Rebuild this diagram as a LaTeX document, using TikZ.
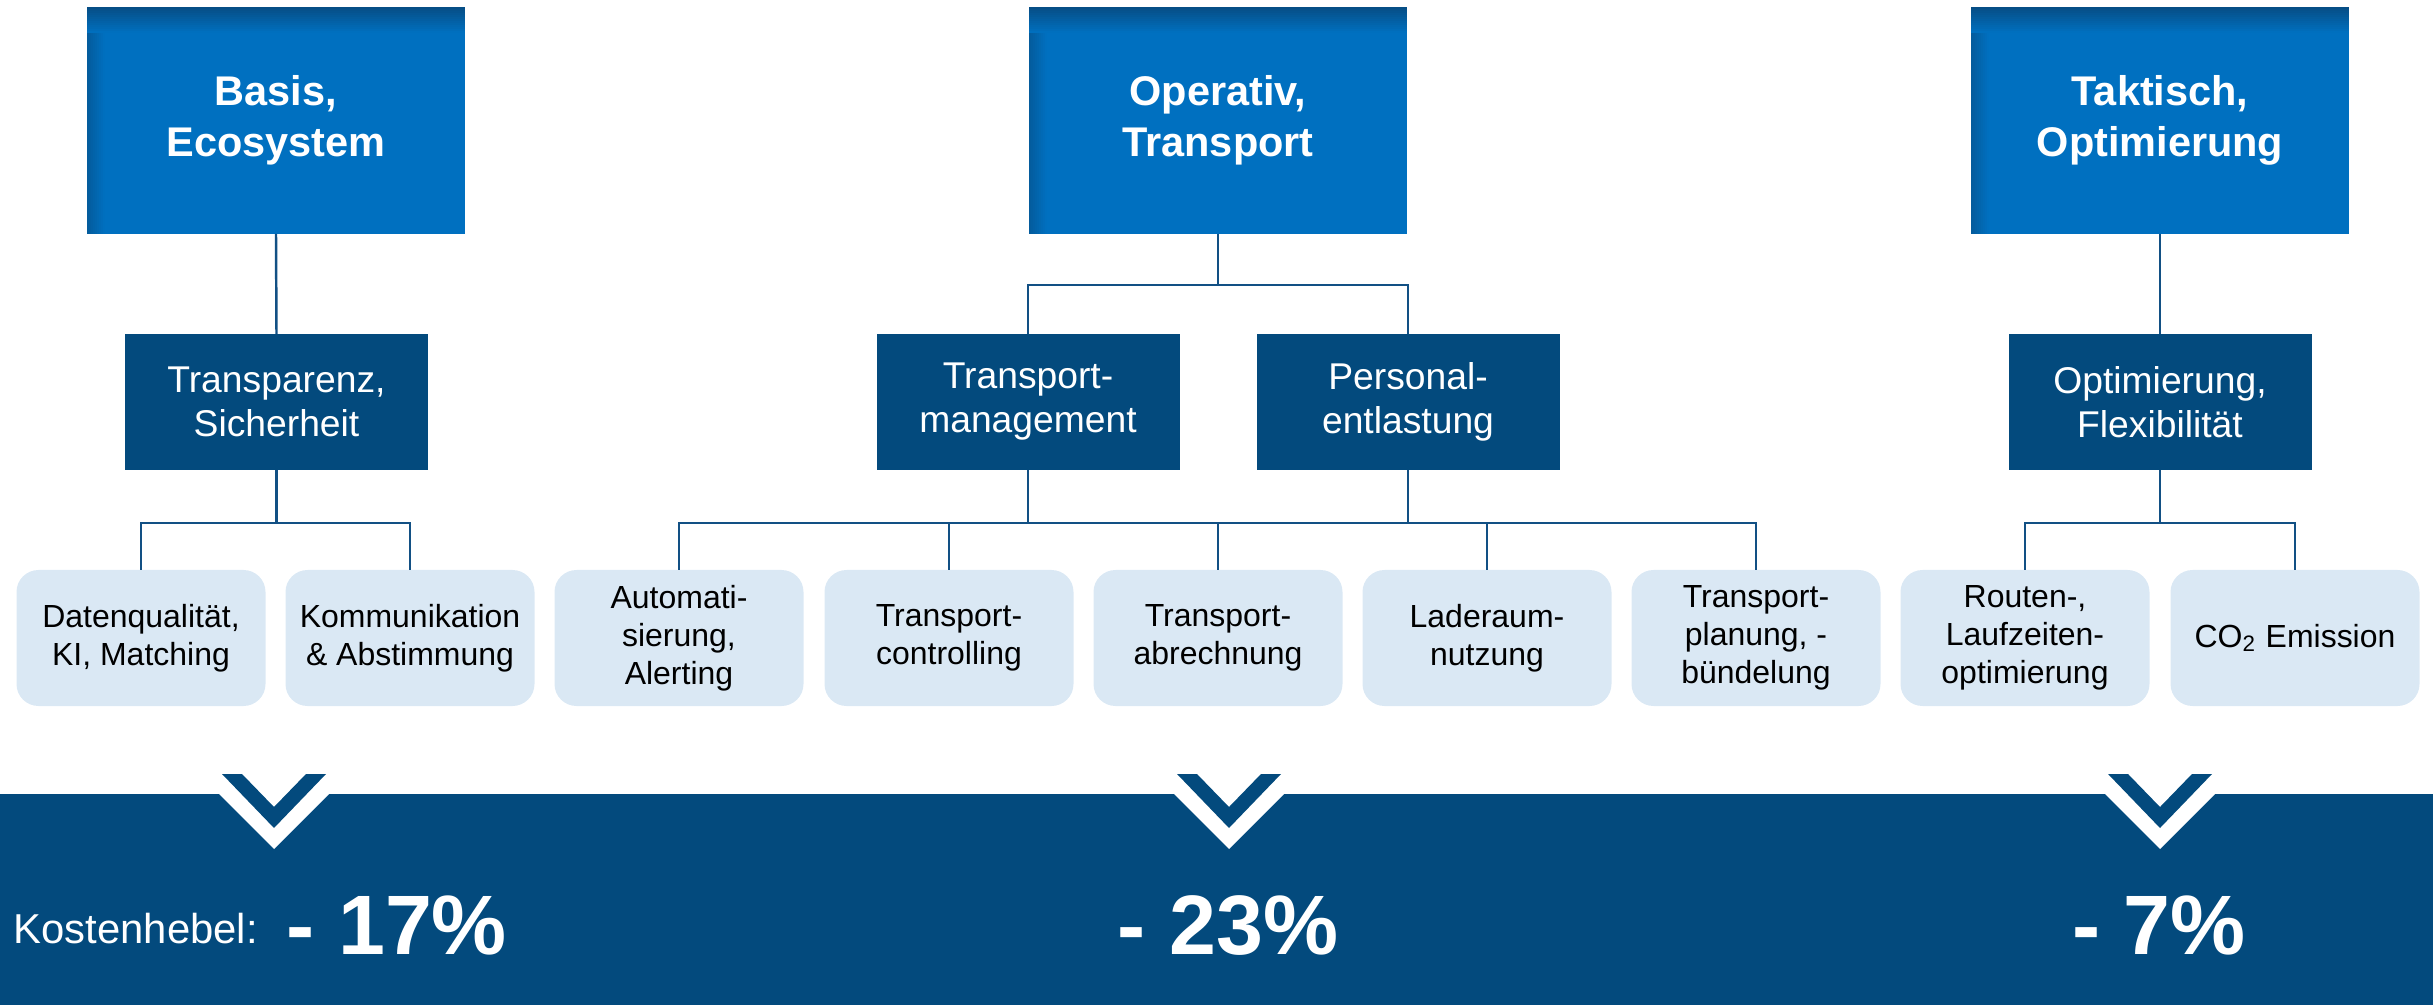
\documentclass[tikz,border=0pt]{standalone}
\usepackage{fontspec}
\setmainfont{Liberation Sans}

\definecolor{topblue}{RGB}{0,112,192}
\definecolor{topshade}{RGB}{6,78,134}
\definecolor{darkblue}{RGB}{3,74,125}
\definecolor{leafblue}{RGB}{218,232,244}
\definecolor{linecol}{RGB}{18,80,132}

\tikzset{
	topbox/.style={fill=topblue, text=white, minimum width=3.78cm, minimum height=2.27cm,
		inner sep=0pt, outer sep=0pt, align=center, font=\fontsize{11.8}{14.5}\selectfont\bfseries,
		path picture={
			\foreach \k in {0,...,8} {
				\pgfmathtruncatemacro{\mix}{60-7*\k}
				\fill[topshade!\mix!topblue] ([xshift=\k*0.02cm]path picture bounding box.north west) rectangle ([xshift=\k*0.02cm+0.021cm]path picture bounding box.south west);
			}
			\foreach \k in {0,...,12} {
				\pgfmathtruncatemacro{\mix}{100-8*\k}
				\fill[topshade!\mix!topblue] ([yshift=-\k*0.02cm]path picture bounding box.north west) rectangle ([yshift=-\k*0.02cm-0.021cm]path picture bounding box.north east);
			}
		}},
	midbox/.style={fill=darkblue, text=white, minimum width=3.03cm, minimum height=1.36cm,
		inner sep=0pt, outer sep=0pt, align=center, font=\fontsize{10.6}{12.5}\selectfont},
	leafbox/.style={fill=leafblue, rounded corners=0.22cm, minimum width=2.49cm, minimum height=1.36cm,
		inner sep=0pt, outer sep=0pt, align=center, font=\fontsize{9.1}{10.8}\selectfont},
	conn/.style={draw=linecol, line width=0.7pt},
	numtext/.style={text=white, inner sep=0pt, font=\fontsize{24}{28}\selectfont\bfseries},
}

\begin{document}
\begin{tikzpicture}
	
	\useasboundingbox (0,0) rectangle (24.33,-10.05);
	
	% top level
	\node[topbox] (basis) at (2.76,-1.205) {Basis,\\Ecosystem};
	\node[topbox] (operativ) at (12.18,-1.205) {Operativ,\\Transport};
	\node[topbox] (taktisch) at (21.60,-1.205) {Taktisch,\\Optimierung};
	
	% second level
	\node[midbox] (transp) at (2.765,-4.02) {Transparenz,\\Sicherheit};
	\node[midbox] (tmgmt) at (10.28,-4.02) {Transport-\\management};
	\node[midbox] (personal) at (14.08,-4.02) {Personal-\\entlastung};
	\node[midbox] (optflex) at (21.60,-4.02) {Optimierung,\\Flexibilität};
	
	% leaves
	\node[leafbox] (daten) at (1.41,-6.38) {Datenqualität,\\KI, Matching};
	\node[leafbox] (komm) at (4.10,-6.38) {Kommunikation\\\& Abstimmung};
	\node[leafbox] (auto) at (6.79,-6.38) {Automati-\\sierung,\\Alerting};
	\node[leafbox] (tcontr) at (9.49,-6.38) {Transport-\\controlling};
	\node[leafbox] (tabr) at (12.18,-6.38) {Transport-\\abrechnung};
	\node[leafbox] (lader) at (14.87,-6.38) {Laderaum-\\nutzung};
	\node[leafbox] (tplan) at (17.56,-6.38) {Transport-\\planung, -\\bündelung};
	\node[leafbox] (routen) at (20.25,-6.38) {Routen-,\\Laufzeiten-\\optimierung};
	\node[leafbox] (co2) at (22.95,-6.38) {CO\textsubscript{2} Emission};
	
	% connectors
	\draw[conn] (basis.south) -- (transp.north);
	\draw[conn] (taktisch.south) -- (optflex.north);
	
	\draw[conn] (operativ.south) -- ++(0,-0.51) coordinate (busop);
	\draw[conn] (tmgmt.north) |- (busop) -| (personal.north);
	
	\draw[conn] (transp.south) -- ++(0,-0.53) coordinate (bustr);
	\draw[conn] (daten.north) |- (bustr) -| (komm.north);
	
	\draw[conn] (tmgmt.south) -- ++(0,-0.53) coordinate (bustm);
	\draw[conn] (personal.south) -- (personal.south |- bustm);
	\draw[conn] (auto.north) |- (bustm) -| (tplan.north);
	\draw[conn] (tcontr.north) -- (tcontr.north |- bustm);
	\draw[conn] (tabr.north) -- (tabr.north |- bustm);
	\draw[conn] (lader.north) -- (lader.north |- bustm);
	
	\draw[conn] (optflex.south) -- ++(0,-0.53) coordinate (busopt);
	\draw[conn] (routen.north) |- (busopt) -| (co2.north);
	
	% band
	\fill[darkblue] (0,-7.94) rectangle (24.33,-10.05);
	
	% chevrons
	\fill[white] (2.74-0.75,-7.74) -- (2.74,-8.49) -- (2.74+0.75,-7.74) -- cycle;
	\fill[darkblue] (2.74-0.52,-7.74) -- (2.74,-8.28) -- (2.74+0.52,-7.74) -- (2.74+0.32,-7.74) -- (2.74,-8.07) -- (2.74-0.32,-7.74) -- cycle;
	
	\fill[white] (12.29-0.75,-7.74) -- (12.29,-8.49) -- (12.29+0.75,-7.74) -- cycle;
	\fill[darkblue] (12.29-0.52,-7.74) -- (12.29,-8.28) -- (12.29+0.52,-7.74) -- (12.29+0.32,-7.74) -- (12.29,-8.07) -- (12.29-0.32,-7.74) -- cycle;
	
	\fill[white] (21.60-0.75,-7.74) -- (21.60,-8.49) -- (21.60+0.75,-7.74) -- cycle;
	\fill[darkblue] (21.60-0.52,-7.74) -- (21.60,-8.28) -- (21.60+0.52,-7.74) -- (21.60+0.32,-7.74) -- (21.60,-8.07) -- (21.60-0.32,-7.74) -- cycle;
	
	% values
	\node[anchor=base west, text=white, inner sep=0pt, font=\fontsize{11.9}{14}\selectfont] (kosten) at (0.13,-9.43) {Kostenhebel:};
	\node[numtext, anchor=base west] (val17) at (2.86,-9.54) {- 17\%};
	\node[numtext, anchor=base] (val23) at (12.28,-9.54) {- 23\%};
	\node[numtext, anchor=base] (val7) at (21.59,-9.54) {- 7\%};
	
\end{tikzpicture}
\end{document}
